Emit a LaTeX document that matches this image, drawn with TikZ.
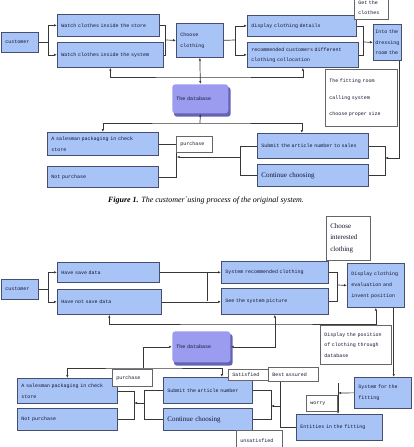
\documentclass[tikz,border=0pt]{standalone}
\usepackage{fontspec}
\setmainfont{Liberation Serif}
\setmonofont{Liberation Mono}
\usetikzlibrary{arrows.meta,backgrounds}
\definecolor{boxblue}{RGB}{168,196,246}
\definecolor{boxline}{RGB}{70,80,110}
\definecolor{dbfill}{RGB}{155,155,240}
\definecolor{dbdark}{RGB}{100,100,180}
\definecolor{wirec}{RGB}{55,55,55}
\definecolor{ink}{RGB}{20,20,50}

\begin{document}
\begin{tikzpicture}[x=1pt, y=-1pt, >={Latex[length=3pt,width=2.4pt]},
 box/.style={draw=boxline, fill=boxblue, line width=0.7pt, anchor=north west, align=left,
   inner xsep=4pt, inner ysep=0pt, text=ink, font=\fontsize{5}{11}\selectfont\ttfamily},
 note/.style={box, draw=black!60, fill=white, line width=0.5pt},
 dbase/.style={box, draw=none, fill=dbfill, rounded corners=3pt},
 serif/.style={font=\fontsize{7}{11.5}\selectfont\rmfamily},
 wire/.style={draw=wirec, line width=0.7pt}]
\useasboundingbox (0,0) rectangle (414,447);

% ---- Figure 1 ----
\node[box, text width=29pt, minimum height=20pt] (cust1) at (1,32) {customer};
\node[box, text width=94pt, minimum height=22pt] (store1) at (57,14) {Watch clothes inside the store};
\node[box, text width=98pt, minimum height=25pt] (sys1) at (57,42) {Watch clothes inside the system};
\node[box, text width=39pt, minimum height=34pt] (choose1) at (176,23) {Choose\\clothing};
\node[box, text width=101pt, minimum height=21pt] (disp1) at (247,15) {display clothing details};
\node[box, text width=103pt, minimum height=25pt, font=\fontsize{5}{10}\selectfont\ttfamily] (rec1) at (247,42) {recommended customers different\\clothing collocation};
\node[box, inner xsep=2pt, text width=24pt, minimum height=36pt, font=\fontsize{5}{10.5}\selectfont\ttfamily] (dress1) at (373,24) {Into the\\dressing\\room the};
\node[note, text width=26pt, minimum height=23pt, font=\fontsize{5}{10}\selectfont\ttfamily] (get1) at (354,-4) {Get the\\clothes};
\node[note, text width=64pt, minimum height=57pt, font=\fontsize{5}{16.5}\selectfont\ttfamily] (fit1) at (325,69) {The fitting room\\calling system\\choose proper size};
\node[dbase, text width=48pt, minimum height=29pt] (db1) at (172,84) {The database};
\node[box, text width=103pt, minimum height=23pt] (sales1) at (47,132) {A salesman packaging in check\\store};
\node[box, text width=103pt, minimum height=21pt] (notp1) at (47,166) {Not purchase};
\node[box, text width=103pt, minimum height=25pt] (sub1) at (257,133) {Submit the article number to sales};
\node[box, serif, text width=103pt, minimum height=22pt] (cont1) at (257,164) {Continue choosing};

\begin{scope}[on background layer]
 \fill[dbdark, rounded corners=3pt] ([shift={(2,3)}]db1.north west) rectangle ([shift={(2,3)}]db1.south east);
\end{scope}

\coordinate (j1) at (165,40);
\coordinate (j5) at (235,40);
\coordinate (j6) at (363,42);
\coordinate (fb1) at (200,77);
\coordinate (fb2) at (200,123);
\coordinate (j3) at (240,157);
\coordinate (j4) at (385,158);

\draw[wire] (cust1.east) -- ++(10,0) coordinate (j0);
\draw[wire,->] (j0) |- (store1.west);
\draw[wire,->] (j0) |- (sys1.west);
\draw[wire] (store1.east) -| (j1);
\draw[wire] (sys1.east) -| (j1);
\draw[wire,->] (j1) -- (choose1.west);
\draw[wire] (choose1.east) -- (j5);
\draw[wire,->] (j5) |- (disp1.west);
\draw[wire,->] (j5) |- (rec1.west);
\draw[wire] (disp1.east) -| (j6);
\draw[wire] (rec1.east) -| (j6);
\draw[wire,->] (j6) -- (dress1.west);
\draw[wire,<->] (choose1.south) -- (db1.north);
\draw[wire,<->] (sys1.south) |- (fb1) -| (rec1.south);
\draw[wire,<->] (sales1.north) |- (fb2) -| ([xshift=-11pt]sub1.north);
\draw[wire,->] (fb2) -- (db1.south);
\draw[wire] (sales1.east) -- (sales1.east -| notp1.east) -- ++(18,0) coordinate (jp);
\draw[wire] (notp1.east) -| (jp);
\draw[wire] (sub1.west) -| (j3);
\draw[wire] (cont1.west) -| (j3);
\draw[wire,->] (j3) -- (j3 -| jp);
\draw[wire] (sub1.east) -| (j4);
\draw[wire] (cont1.east) -| (j4);
\draw[wire,->] ([xshift=-2pt]dress1.south east) |- (j4);
\node[note, text width=28pt, minimum height=16pt] (purch1) at (176,136) {purchase};

\node[font=\fontsize{8}{9}\selectfont\itshape] (cap1) at (206,201) {\textbf{Figure 1.} The customer\textasciigrave using process of the original system.};

% ---- Figure 2 ----
\node[note, serif, text width=36pt, minimum height=44pt] (choose2) at (326,216) {Choose\\interested\\clothing};
\node[box, text width=29pt, minimum height=20pt] (cust2) at (1,279) {customer};
\node[box, text width=94pt, minimum height=20pt] (save2) at (57,262) {Have save data};
\node[box, text width=96pt, minimum height=25pt] (nsave2) at (57,289) {Have not save data};
\node[box, text width=99pt, minimum height=22pt] (sysrec2) at (221,261) {System recommended clothing};
\node[box, text width=99pt, minimum height=26pt] (pic2) at (221,288) {See the system picture};
\node[box, text width=49pt, minimum height=44pt] (disp2) at (347,263) {Display clothing\\evaluation and\\invent position};
\node[note, text width=63pt, minimum height=39pt, font=\fontsize{5}{10.5}\selectfont\ttfamily] (dpos2) at (320,325) {Display the position\\of clothing through\\database};
\node[box, text width=49pt, minimum height=31pt] (sfit2) at (354,377) {System for the\\fitting};
\node[dbase, text width=50pt, minimum height=31pt] (db2) at (172,331) {The database};
\node[box, text width=92pt, minimum height=25pt] (sales2) at (17,378) {A salesman packaging in check\\store};
\node[box, text width=92pt, minimum height=22pt] (notp2) at (17,408) {Not purchase};
\node[box, text width=81pt, minimum height=26pt] (sub2) at (163,377) {Submit the article number};
\node[box, serif, text width=81pt, minimum height=22pt] (cont2) at (163,408) {Continue choosing};
\node[box, text width=78pt, minimum height=26pt] (ent2) at (296,414) {Entities in the fitting};

\begin{scope}[on background layer]
 \fill[dbdark, rounded corners=3pt] ([shift={(2,3)}]db2.north west) rectangle ([shift={(2,3)}]db2.south east);
\end{scope}

\coordinate (j8) at (207,272);
\coordinate (j9) at (337,285);
\coordinate (j10) at (250,324);
\coordinate (j12) at (143,368);
\coordinate (j13) at (134,403);
\coordinate (j14) at (144,403);
\coordinate (j15) at (271,406);
\coordinate (j16) at (280,406);
\coordinate (j17) at (338,393);

\draw[wire] (cust2.east) -- ++(10,0) coordinate (j7);
\draw[wire,->] (j7) |- (save2.west);
\draw[wire,->] (j7) |- (nsave2.west);
\draw[wire,->] (save2.east) -- (sysrec2.west);
\draw[wire] (j8) -- (j8 |- pic2.west);
\draw[wire,->] (nsave2.east) -- (nsave2.east -| pic2.west);
\draw[wire] (sysrec2.east) -| (j9);
\draw[wire] (pic2.east) -| (j9);
\draw[wire,->] (j9) -- (disp2.west);
\draw[wire,<->] (nsave2.south) |- (j10) -| (disp2.south);
\draw[wire,<->] (pic2.south) |- (db2.east);
\path ([xshift=-11pt]disp2.south east) coordinate (j11);
\draw[wire,->] (j11) -- (j11 |- sfit2.north);
\draw[wire,<->] (sales2.north) |- (j12) -| ([xshift=14pt]sub2.north);
\draw[wire,->] (j12) |- (db2.west);
\draw[wire] (sales2.east) -| (j13);
\draw[wire] (notp2.east) -| (j13);
\draw[wire] (sub2.west) -| (j14);
\draw[wire] (cont2.west) -| (j14);
\draw[wire,->] (j14) -- (j13);
\draw[wire] (sub2.east) -| (j15);
\draw[wire] (cont2.east) -| (j15);
\draw[wire,->] (j16) -- (j15);
\draw[wire] (ent2.west) -| (j16 |- 0,381);
\draw[wire,->] (sfit2.west) -- (j17);
\draw[wire,->] (j17 |- 0,383) -- (j17 |- ent2.north);

\node[note, text width=32pt, minimum height=17pt] (purch2) at (112,369) {purchase};
\node[note, text width=34pt, minimum height=11pt] (satis2) at (228,369) {Satisfied};
\node[note, text width=42pt, minimum height=14pt] (best2) at (268,367) {Best assured};
\node[note, text width=23pt, minimum height=16pt] (worry2) at (306,395) {worry};
\node[note, text width=38pt, minimum height=20pt] (unsat2) at (236,430) {unsatisfied};
\end{tikzpicture}
\end{document}
